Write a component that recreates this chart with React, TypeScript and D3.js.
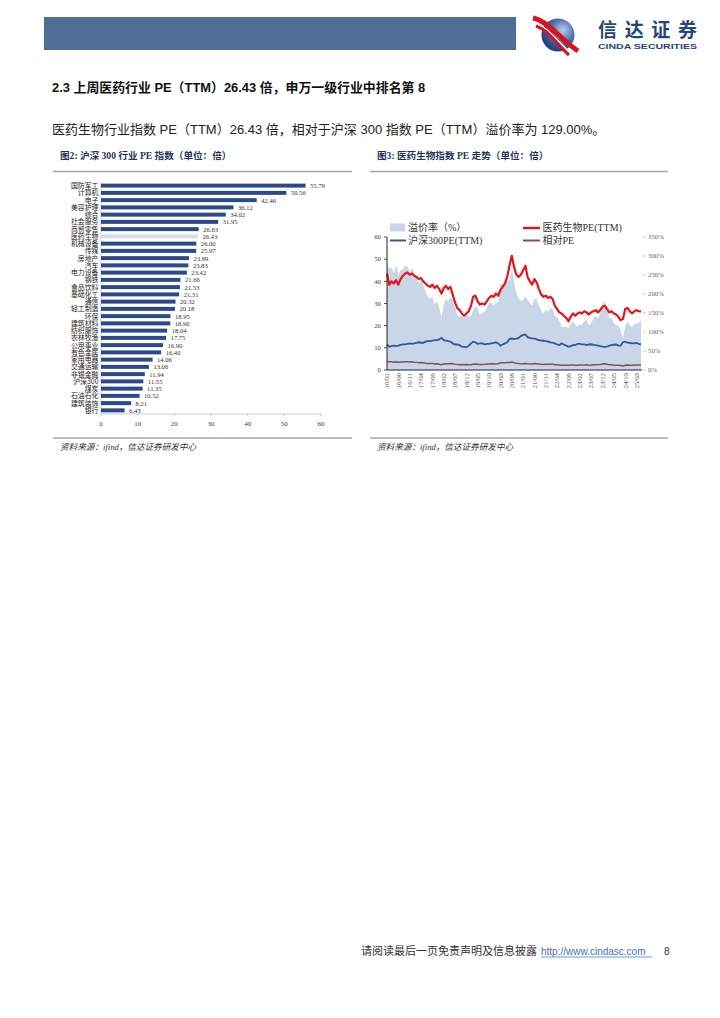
import React from "react";
import * as d3 from "d3";

// ---------- Figure 2: industry PE (TTM) ----------
const industries = [
  "国防军工", "计算机", "电子", "美容护理", "综合", "社会服务", "商贸零售", "医药生物",
  "机械设备", "传媒", "房地产", "汽车", "电力设备", "钢铁", "食品饮料", "基础化工",
  "通信", "轻工制造", "环保", "建筑材料", "纺织服饰", "农林牧渔", "公用事业", "有色金属",
  "家用电器", "交通运输", "非银金融", "沪深300", "煤炭", "石油石化", "建筑装饰", "银行",
];
const industryPE = [
  55.79, 50.56, 42.46, 36.12, 34.02, 31.95, 26.63, 26.43,
  26.0, 25.97, 23.99, 23.83, 23.42, 21.66, 21.53, 21.31,
  20.32, 20.18, 18.95, 18.9, 18.04, 17.75, 16.9, 16.4,
  14.06, 13.06, 11.94, 11.55, 11.35, 10.52, 8.21, 6.43,
];
const highlightIndustry = "医药生物";
const barXTicks = [0, 10, 20, 30, 40, 50, 60];

// ---------- Figure 3: monthly PE trend (2016/01 - 2025/05) ----------
const seriesStart = "2016-01";
const medPE = [
  43.5, 38.5, 40, 39, 40.5, 38.5, 41, 42.5, 43.5, 44, 43, 43.5,
  42.5, 42, 41, 41.5, 40, 39, 38, 37.5, 38.5, 37, 38, 36.5,
  34.5, 37, 38, 36.5, 37.5, 34, 30.5, 28, 27, 25.5, 24.5, 25.5,
  26.5, 29, 33, 33.5, 31, 29.5, 30, 29.5, 31, 32.5, 33.5, 33,
  34.5, 33.5, 36, 37.5, 39, 42, 47, 51.5, 46.5, 43, 42, 43,
  45, 47, 42, 40, 38.5, 41, 39.5, 36.5, 34, 33, 33.5, 32.5,
  33, 32, 29, 27.5, 26, 25.5, 24.5, 23.5, 22, 24, 25.5, 24.5,
  25.5, 26, 25.5, 26.5, 26, 25, 26, 26.5, 27, 26, 27, 28.5,
  29, 27.5, 26, 26.5, 25.5, 25, 24, 22.5, 23, 27.5, 28, 26.5,
  25.5, 26.5, 27, 26.5, 26.43,
];
const hs300PE = [
  11.5, 10.5, 10.8, 11, 10.8, 11, 11.3, 11.6, 11.6, 11.8, 12, 11.8,
  12, 12.2, 12.5, 12.3, 12.3, 12.8, 13, 13, 13.2, 13.5, 13.5, 13.8,
  14.5, 13.5, 13.3, 13, 12.8, 12, 11.5, 11.5, 11.2, 10.5, 10.4, 10.2,
  11, 12, 12.8, 12.5, 11.8, 12, 12, 11.6, 11.8, 11.8, 12, 12.2,
  12.5, 12, 11, 11.5, 12, 12.5, 14, 14.2, 14, 14.2, 14.5, 15.3,
  15.8, 16, 14.8, 14.5, 14.3, 14.2, 13.8, 13.5, 13.3, 13.2, 13, 12.8,
  12.5, 12.3, 12, 11.5, 11.3, 12, 11.5, 11, 10.5, 10.8, 11.2, 11.3,
  11.8, 11.8, 11.6, 11.6, 11.2, 11.5, 11.6, 11.3, 11.2, 11, 10.8, 10.6,
  10.3, 10.6, 11, 11.2, 11.4, 11.5, 11, 11, 12.5, 12.8, 12.3, 12.2,
  12, 12, 12.2, 11.8, 11.55,
];
const relPE = [
  3.78, 3.67, 3.7, 3.55, 3.75, 3.5, 3.63, 3.66, 3.75, 3.73, 3.58, 3.69,
  3.54, 3.44, 3.28, 3.37, 3.25, 3.05, 2.92, 2.88, 2.92, 2.74, 2.81, 2.64,
  2.38, 2.74, 2.86, 2.81, 2.93, 2.83, 2.65, 2.43, 2.41, 2.43, 2.36, 2.5,
  2.41, 2.42, 2.58, 2.68, 2.63, 2.46, 2.5, 2.54, 2.63, 2.75, 2.79, 2.7,
  2.76, 2.79, 3.27, 3.26, 3.25, 3.36, 3.36, 3.63, 3.32, 3.03, 2.9, 2.81,
  2.85, 2.94, 2.84, 2.76, 2.69, 2.89, 2.86, 2.7, 2.56, 2.5, 2.58, 2.54,
  2.64, 2.6, 2.42, 2.39, 2.3, 2.13, 2.13, 2.14, 2.1, 2.22, 2.28, 2.17,
  2.16, 2.2, 2.2, 2.28, 2.32, 2.17, 2.24, 2.35, 2.41, 2.36, 2.5, 2.69,
  2.82, 2.59, 2.36, 2.37, 2.24, 2.17, 2.18, 2.05, 1.84, 2.15, 2.28, 2.17,
  2.13, 2.21, 2.21, 2.25, 2.29,
];
const premium = [
  278, 267, 270, 255, 275, 250, 263, 266, 275, 273, 258, 269,
  254, 244, 228, 237, 225, 205, 192, 188, 192, 174, 181, 164,
  138, 174, 186, 181, 193, 183, 165, 143, 141, 143, 136, 150,
  141, 142, 158, 168, 163, 146, 150, 154, 163, 175, 179, 170,
  176, 179, 227, 226, 225, 236, 236, 263, 232, 203, 190, 181,
  185, 194, 184, 176, 169, 189, 186, 170, 156, 150, 158, 154,
  164, 160, 142, 139, 130, 113, 113, 114, 110, 122, 128, 117,
  116, 120, 120, 128, 132, 117, 124, 135, 141, 136, 150, 169,
  182, 159, 136, 137, 124, 117, 118, 105, 84, 115, 128, 117,
  113, 121, 121, 125, 129,
];
const lineXTickLabels = [
  "16/01", "16/06", "16/11", "17/04", "17/09", "18/02", "18/07", "18/12",
  "19/05", "19/10", "20/03", "20/08", "21/01", "21/06", "21/11", "22/04",
  "22/09", "23/02", "23/07", "23/12", "24/05", "24/10", "25/03",
];
const leftYTicks = [0, 10, 20, 30, 40, 50, 60];
const rightYTicks = [0, 50, 100, 150, 200, 250, 300, 350];

const SERIF = "'Liberation Serif', 'Times New Roman', 'Noto Sans CJK SC', serif";
const SANS = "'Liberation Sans', Arial, 'Noto Sans CJK SC', sans-serif";
const CJK = "'Noto Sans CJK SC', sans-serif";

export default function App() {
  const W = 720;
  const H = 1018;

  // bar chart scales
  const bx = d3.scaleLinear().domain([0, 60]).range([101, 321]);
  const by = d3
    .scaleBand<string>()
    .domain(industries)
    .range([182, 414])
    .paddingInner(0.45)
    .paddingOuter(0.225);

  // line chart scales
  const parseYM = d3.timeParse("%Y-%m");
  const parseTick = d3.timeParse("%y/%m");
  const t0 = parseYM(seriesStart) as Date;
  const dates = medPE.map((_, i) => d3.timeMonth.offset(t0, i));
  const lx = d3.scaleTime().domain([t0, dates[dates.length - 1]]).range([387, 641]);
  const ly = d3.scaleLinear().domain([0, 60]).range([370, 237]);
  const ry = d3.scaleLinear().domain([0, 350]).range([370, 237]);

  const lineGen = d3
    .line<number>()
    .x((_, i) => lx(dates[i]))
    .y((d) => ly(d));
  const areaGen = d3
    .area<number>()
    .x((_, i) => lx(dates[i]))
    .y0(ly(0))
    .y1((d) => ry(d));

  return (
    <svg
      width={W}
      height={H}
      viewBox={`0 0 ${W} ${H}`}
      style={{ position: "absolute", left: 0, top: 0, background: "#fff" }}
    >
      <defs>
        <radialGradient id="logoG" cx="0.65" cy="0.35" r="0.75">
          <stop offset="0" stopColor="#b9cdea" />
          <stop offset="0.45" stopColor="#4f74b5" />
          <stop offset="1" stopColor="#15306e" />
        </radialGradient>
      </defs>
      <rect x={0} y={0} width={W} height={H} fill="#fff" />

      {/* header */}
      <rect x={44} y={17} width={472} height={33} fill="#4d6f95" />
      <circle cx={558} cy={35} r={16.5} fill="url(#logoG)" />
      <path d="M533,18 C548,21 559,38 578,51" stroke="#d7141e" strokeWidth={5} fill="none" />
      <path d="M535,23 C548,27 557,42 572,54" stroke="#fff" strokeWidth={1.6} fill="none" />
      <path d="M536,26 C549,30 556,44 569,55" stroke="#d7141e" strokeWidth={3.2} fill="none" />
      <text x={598} y={36.5} fontFamily={CJK} fontWeight={700} fontSize={19} fill="#24477a" textLength={99} lengthAdjust="spacing">
        信达证券
      </text>
      <text x={598} y={48.5} fontFamily={SANS} fontWeight={700} fontSize={8} fill="#24477a" textLength={99} lengthAdjust="spacingAndGlyphs">
        CINDA SECURITIES
      </text>

      {/* section title & paragraph */}
      <text x={52} y={92} fontFamily={SANS} fontWeight={700} fontSize={12.9} fill="#111">
        2.3 上周医药行业 PE（TTM）26.43 倍，申万一级行业中排名第 8
      </text>
      <text x={52} y={134} fontFamily={SANS} fontSize={13} fill="#222">
        医药生物行业指数 PE（TTM）26.43 倍，相对于沪深 300 指数 PE（TTM）溢价率为 129.00%。
      </text>

      {/* captions */}
      <text x={60} y={159} fontFamily={SERIF} fontWeight={700} fontSize={9.6} fill="#1f3556">
        图2: 沪深 300 行业 PE 指数（单位：倍）
      </text>
      <text x={377} y={159} fontFamily={SERIF} fontWeight={700} fontSize={9.6} fill="#1f3556">
        图3: 医药生物指数 PE 走势（单位：倍）
      </text>
      <line x1={53} x2={352} y1={171.5} y2={171.5} stroke="#a6a6a6" strokeWidth={1.6} />
      <line x1={370} x2={668} y1={171.5} y2={171.5} stroke="#a6a6a6" strokeWidth={1.6} />

      {/* ---------- bar chart ---------- */}
      <line x1={bx(0)} x2={bx(0)} y1={182} y2={414} stroke="#bfbfbf" strokeWidth={0.8} />
      <line x1={bx(0)} x2={bx(60)} y1={414} y2={414} stroke="#bfbfbf" strokeWidth={0.8} />
      {barXTicks.map((t) => (
        <g key={"bxt" + t}>
          <line x1={bx(t)} x2={bx(t)} y1={414} y2={416} stroke="#bfbfbf" strokeWidth={0.8} />
          <text x={bx(t)} y={425.5} textAnchor="middle" fontFamily={SERIF} fontSize={7} fill="#444">
            {t}
          </text>
        </g>
      ))}
      {industries.map((name, i) => {
        const y = by(name) as number;
        const bw = by.bandwidth();
        const v = industryPE[i];
        const hl = name === highlightIndustry;
        return (
          <g key={name}>
            <rect
              x={bx(0)}
              y={y}
              width={bx(v) - bx(0)}
              height={bw}
              fill={hl ? "#d6dde9" : "#2c4a8b"}
            />
            <text
              x={98.5}
              y={y + bw / 2}
              dy="0.36em"
              textAnchor="end"
              fontFamily={CJK}
              fontSize={6.9}
              fill="#222"
            >
              {name}
            </text>
            <text
              x={bx(v) + 4.5}
              y={y + bw / 2}
              dy="0.36em"
              fontFamily={SERIF}
              fontSize={6.6}
              fill="#333"
            >
              {v.toFixed(2)}
            </text>
          </g>
        );
      })}

      {/* ---------- line chart ---------- */}
      <path d={areaGen(premium) || ""} fill="#c8d6e8" />
      <path d={lineGen(relPE) || ""} fill="none" stroke="#8a4a5c" strokeWidth={1.5} />
      <path d={lineGen(hs300PE) || ""} fill="none" stroke="#30599a" strokeWidth={1.8} />
      <path d={lineGen(medPE) || ""} fill="none" stroke="#e8141b" strokeWidth={2.2} strokeLinejoin="round" />

      {/* left axis */}
      <line x1={387} x2={387} y1={ly(60)} y2={ly(0)} stroke="#222" strokeWidth={1} />
      {leftYTicks.map((t) => (
        <g key={"ly" + t}>
          <line x1={384} x2={387} y1={ly(t)} y2={ly(t)} stroke="#222" strokeWidth={0.8} />
          <text x={381} y={ly(t)} dy="0.34em" textAnchor="end" fontFamily={SERIF} fontSize={6.8} fill="#444">
            {t}
          </text>
        </g>
      ))}
      {/* right axis */}
      {rightYTicks.map((t) => (
        <g key={"ry" + t}>
          <line x1={643} x2={646} y1={ry(t)} y2={ry(t)} stroke="#bfbfbf" strokeWidth={0.8} />
          <text x={648} y={ry(t)} dy="0.34em" fontFamily={SERIF} fontSize={6.8} fill="#666">
            {t + "%"}
          </text>
        </g>
      ))}
      {/* bottom axis */}
      <line x1={387} x2={642} y1={ly(0)} y2={ly(0)} stroke="#222" strokeWidth={1} />
      {lineXTickLabels.map((lab) => {
        const x = lx(parseTick(lab) as Date);
        return (
          <text
            key={lab}
            transform={`translate(${x},373) rotate(-90)`}
            dy="0.34em"
            textAnchor="end"
            fontFamily={SERIF}
            fontSize={6.8}
            fill="#555"
          >
            {lab}
          </text>
        );
      })}

      {/* legend */}
      <rect x={390} y={223.5} width={15} height={8} fill="#c8d6e8" />
      <text x={408} y={231} fontFamily={SERIF} fontSize={10} fill="#333">溢价率（%）</text>
      <line x1={523} x2={540} y1={228} y2={228} stroke="#e8141b" strokeWidth={2.4} />
      <text x={542.5} y={231} fontFamily={SERIF} fontSize={10} fill="#333">医药生物PE(TTM)</text>
      <line x1={390} x2={406} y1={240.5} y2={240.5} stroke="#30599a" strokeWidth={2} />
      <text x={408} y={244} fontFamily={SERIF} fontSize={10} fill="#333">沪深300PE(TTM)</text>
      <line x1={523} x2={540} y1={240.5} y2={240.5} stroke="#8a4a5c" strokeWidth={2} />
      <text x={542.5} y={244} fontFamily={SERIF} fontSize={10} fill="#333">相对PE</text>

      {/* bottom rules & sources */}
      <line x1={53} x2={352} y1={438} y2={438} stroke="#555" strokeWidth={0.8} />
      <line x1={370} x2={668} y1={438} y2={438} stroke="#555" strokeWidth={0.8} />
      <text x={60} y={450} fontFamily={SERIF} fontStyle="italic" fontSize={8.6} fill="#333">
        资料来源：ifind，信达证券研发中心
      </text>
      <text x={377} y={450} fontFamily={SERIF} fontStyle="italic" fontSize={8.6} fill="#333">
        资料来源：ifind，信达证券研发中心
      </text>

      {/* footer */}
      <text x={361} y={955} fontFamily={CJK} fontSize={11} fill="#333">
        请阅读最后一页免责声明及信息披露
      </text>
      <text x={541} y={955} fontFamily={SANS} fontSize={10} fill="#3f6fb6">
        http://www.cindasc.com
      </text>
      <line x1={541} x2={652} y1={957} y2={957} stroke="#3f6fb6" strokeWidth={0.7} />
      <text x={664} y={955} fontFamily={SANS} fontSize={10} fill="#333">8</text>
    </svg>
  );
}
